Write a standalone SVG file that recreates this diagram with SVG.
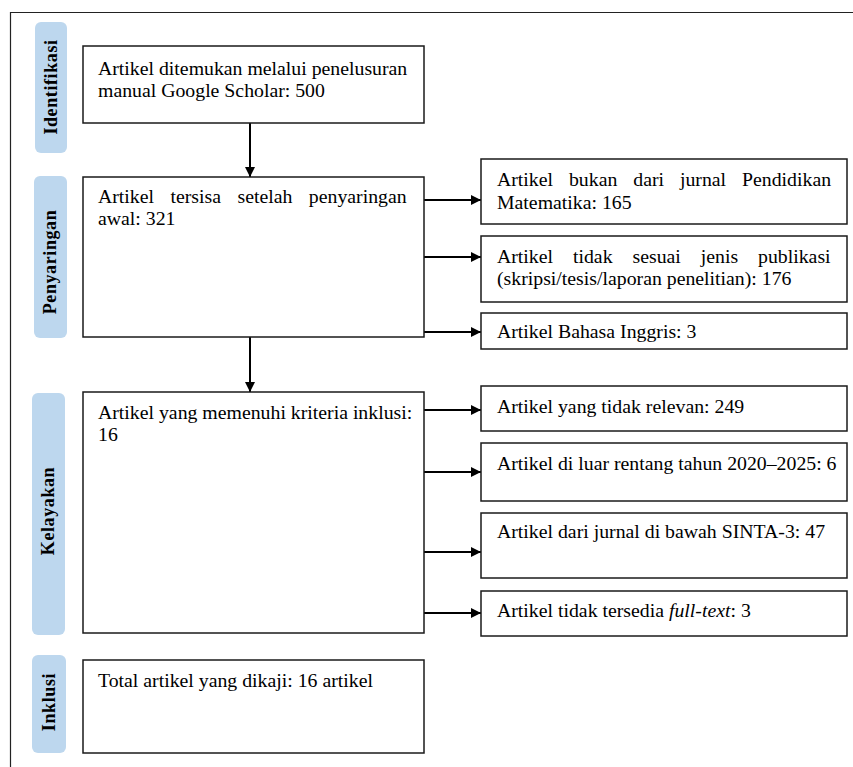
<svg xmlns="http://www.w3.org/2000/svg" width="853" height="767" viewBox="0 0 853 767">
<style>
.box{fill:#fff;stroke:#1a1a1a;stroke-width:1.5}
.lab{fill:#bdd7ee;stroke:none}
.t{font-family:"Liberation Serif","Times New Roman",serif;font-size:19.8px;fill:#000}
.lt{font-family:"Liberation Serif","Times New Roman",serif;font-size:18px;font-weight:bold;fill:#000;text-anchor:middle;letter-spacing:0.6px}
.c{stroke:#000;stroke-width:2;fill:none}
</style>
<defs>
<marker id="ah" viewBox="0 0 10 10" refX="10" refY="5" markerWidth="10" markerHeight="10" markerUnits="userSpaceOnUse" orient="auto">
<path d="M0,0 L10,5 L0,10 Z" fill="#000"/>
</marker>
</defs>
<rect width="853" height="767" fill="#fff"/>
<path d="M10.5,767 V12.5 H853" fill="none" stroke="#222" stroke-width="1.2"/>

<g id="lab-identifikasi"><rect class="lab" x="35" y="22" width="32" height="131" rx="6"/><text class="lt" transform="translate(57,87) rotate(-90)">Identifikasi</text></g>
<g id="lab-penyaringan"><rect class="lab" x="34" y="176" width="33" height="162" rx="6"/><text class="lt" transform="translate(56,262) rotate(-90)">Penyaringan</text></g>
<g id="lab-kelayakan"><rect class="lab" x="32" y="393" width="33" height="242" rx="6"/><text class="lt" transform="translate(54,511) rotate(-90)">Kelayakan</text></g>
<g id="lab-inklusi"><rect class="lab" x="32" y="655" width="34" height="98" rx="6"/><text class="lt" transform="translate(55,702) rotate(-90)">Inklusi</text></g>

<g id="connectors">
<line class="c" x1="250" y1="123" x2="250" y2="177" marker-end="url(#ah)"/>
<line class="c" x1="250" y1="337" x2="250" y2="392" marker-end="url(#ah)"/>
<line class="c" x1="424" y1="200" x2="481" y2="200" marker-end="url(#ah)"/>
<line class="c" x1="424" y1="257" x2="481" y2="257" marker-end="url(#ah)"/>
<line class="c" x1="424" y1="332" x2="481" y2="332" marker-end="url(#ah)"/>
<line class="c" x1="424" y1="410" x2="481" y2="410" marker-end="url(#ah)"/>
<line class="c" x1="424" y1="472" x2="481" y2="472" marker-end="url(#ah)"/>
<line class="c" x1="424" y1="552" x2="481" y2="552" marker-end="url(#ah)"/>
<line class="c" x1="424" y1="613" x2="481" y2="613" marker-end="url(#ah)"/>
</g>

<g id="n1"><rect class="box" x="83" y="46" width="341" height="77"/>
<text class="t" x="98" y="75">Artikel ditemukan melalui penelusuran</text>
<text class="t" x="98" y="97">manual Google Scholar: 500</text></g>

<g id="n2"><rect class="box" x="83" y="177" width="341" height="160"/>
<text class="t" x="98" y="203" word-spacing="11.5">Artikel tersisa setelah penyaringan</text>
<text class="t" x="98" y="225">awal: 321</text></g>

<g id="n3"><rect class="box" x="83" y="392" width="341" height="241"/>
<text class="t" x="98" y="419">Artikel yang memenuhi kriteria inklusi:</text>
<text class="t" x="98" y="441">16</text></g>

<g id="n4"><rect class="box" x="83" y="660" width="341" height="93"/>
<text class="t" x="98" y="687">Total artikel yang dikaji: 16 artikel</text></g>

<g id="r1"><rect class="box" x="481" y="159" width="366" height="65"/>
<text class="t" x="497" y="186" word-spacing="11">Artikel bukan dari jurnal Pendidikan</text>
<text class="t" x="497" y="209">Matematika: 165</text></g>

<g id="r2"><rect class="box" x="481" y="236" width="366" height="66"/>
<text class="t" x="497" y="263" word-spacing="15">Artikel tidak sesuai jenis publikasi</text>
<text class="t" x="497" y="285">(skripsi/tesis/laporan penelitian): 176</text></g>

<g id="r3"><rect class="box" x="481" y="313" width="366" height="36"/>
<text class="t" x="497" y="338">Artikel Bahasa Inggris: 3</text></g>

<g id="r4"><rect class="box" x="481" y="386" width="366" height="45"/>
<text class="t" x="497" y="413">Artikel yang tidak relevan: 249</text></g>

<g id="r5"><rect class="box" x="481" y="443" width="366" height="58"/>
<text class="t" x="497" y="470">Artikel di luar rentang tahun 2020–2025: 6</text></g>

<g id="r6"><rect class="box" x="481" y="513" width="366" height="65"/>
<text class="t" x="497" y="538">Artikel dari jurnal di bawah SINTA-3: 47</text></g>

<g id="r7"><rect class="box" x="481" y="591" width="366" height="45"/>
<text class="t" x="497" y="617">Artikel tidak tersedia <tspan font-style="italic">full-text</tspan>: 3</text></g>
</svg>
